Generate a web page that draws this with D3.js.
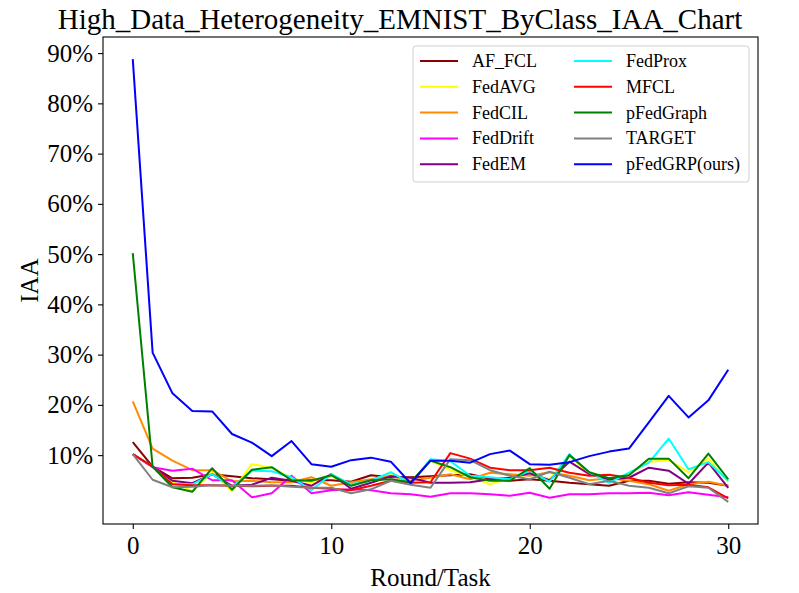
<!DOCTYPE html>
<html>
<head>
<meta charset="utf-8">
<script src="https://cdn.jsdelivr.net/npm/d3@7"></script>
<style>
  body { margin: 0; background: #fff; }
  text { font-family: "Liberation Serif", "Times New Roman", serif; fill: #000; }
</style>
</head>
<body>
<svg id="chart"></svg>
<script>
// rounds 0..30
var rounds = d3.range(0, 31);

// IAA values (%) per method
var afFcl    = [12.6,7.7,5.4,5.5,6.2,5.8,5.4,5.2,4.9,5.0,5.0,4.7,6.0,5.6,5.6,5.8,6.0,6.2,5.3,4.9,5.2,4.9,4.5,4.2,3.9,4.9,4.9,4.3,4.6,4.5,3.9];
var fedAvg   = [10.2,7.7,4.6,2.9,6.6,2.8,8.2,7.5,5.4,4.5,5.8,4.2,5.0,6.4,4.6,8.9,7.0,5.7,4.2,5.5,6.2,5.2,9.9,6.2,5.3,6.2,8.7,9.0,6.6,9.3,4.6];
var fedCil   = [20.7,11.3,8.9,7.0,7.0,4.8,4.9,4.6,4.6,5.6,3.9,4.6,5.2,5.9,4.9,5.5,6.2,5.2,6.5,6.2,5.9,6.6,5.9,5.0,5.4,4.9,4.2,2.9,4.2,4.7,3.9];
var fedDrift = [10.2,7.6,6.9,7.3,5.0,5.0,1.6,2.4,5.9,2.4,3.0,3.2,3.0,2.4,2.2,1.7,2.4,2.4,2.2,1.9,2.5,1.5,2.2,2.2,2.4,2.4,2.5,2.0,2.6,2.1,1.6];
var fedEm    = [10.2,7.7,4.9,4.4,6.2,3.9,4.1,5.5,4.9,3.9,6.2,3.3,4.5,5.8,5.5,4.5,4.5,4.6,5.2,5.5,6.4,5.0,8.7,6.2,5.2,5.5,7.5,6.9,4.3,8.5,3.5];
var fedProx  = [10.2,7.7,4.2,4.2,6.2,3.6,6.9,6.8,5.6,3.0,6.2,4.2,4.9,6.6,4.4,9.2,8.8,5.9,5.6,5.2,6.9,4.7,10.2,6.5,4.5,6.5,8.5,13.3,7.2,8.6,4.9];
var mfcl     = [10.2,7.7,4.2,4.0,4.0,3.9,3.8,3.9,3.9,3.5,3.3,3.0,3.9,4.9,4.5,4.6,10.4,9.3,7.5,7.0,7.0,7.5,6.5,5.9,6.1,5.5,4.5,4.0,4.1,3.6,1.4];
var pFedGraph= [50.2,7.7,3.6,2.7,7.4,3.1,7.1,7.6,5.0,4.9,6.0,3.9,5.0,5.2,4.6,8.9,7.6,5.6,4.9,4.9,7.4,3.3,10.0,6.6,5.4,6.0,9.3,9.3,5.4,10.3,5.2];
var target   = [10.2,5.1,3.6,3.7,4.0,3.9,3.9,4.0,3.7,3.5,3.5,2.4,3.2,4.9,4.1,3.5,9.2,9.0,7.0,5.9,5.2,6.7,5.5,4.2,4.9,3.9,3.5,2.4,3.8,3.5,0.7];
var pFedGrp  = [88.8,30.4,22.3,18.8,18.7,14.2,12.5,9.8,12.8,8.2,7.7,9.0,9.5,8.7,4.4,8.9,8.9,8.5,10.2,10.9,8.2,8.1,8.6,9.8,10.7,11.3,16.5,21.8,17.5,20.9,27.0];

var names  = ["AF_FCL","FedAVG","FedCIL","FedDrift","FedEM","FedProx","MFCL","pFedGraph","TARGET","pFedGRP(ours)"];
var colors = ["#8b0000","#ffff00","#ff8c00","#ff00ff","#800080","#00ffff","#ff0000","#008000","#808080","#0000ff"];
var values = [afFcl,fedAvg,fedCil,fedDrift,fedEm,fedProx,mfcl,pFedGraph,target,pFedGrp];

var xTicks = [0,10,20,30];
var yTicks = [10,20,30,40,50,60,70,80,90];

var width = 799, height = 593;
var margin = {left: 103, right: 41, top: 37, bottom: 69};

var svg = d3.select("#chart").attr("width", width).attr("height", height);

// matplotlib-like 5% padding
var yMin = d3.min(values, d => d3.min(d)), yMax = d3.max(values, d => d3.max(d));
var yPad = (yMax - yMin) * 0.05;

var x = d3.scaleLinear().domain([-1.5, 31.5]).range([margin.left, width - margin.right]);
var y = d3.scaleLinear().domain([yMin - yPad, yMax + yPad]).range([height - margin.bottom, margin.top]);

// lines
var line = d3.line().x((d, i) => x(rounds[i])).y(d => y(d));
svg.append("g")
  .selectAll("path")
  .data(values)
  .join("path")
    .attr("fill", "none")
    .attr("stroke", (d, i) => colors[i])
    .attr("stroke-width", 2)
    .attr("stroke-linejoin", "round")
    .attr("d", line);

// axes
var xAxis = svg.append("g")
  .attr("transform", `translate(0,${height - margin.bottom})`)
  .call(d3.axisBottom(x).tickValues(xTicks).tickSize(5).tickPadding(7));
var yAxis = svg.append("g")
  .attr("transform", `translate(${margin.left},0)`)
  .call(d3.axisLeft(y).tickValues(yTicks).tickSize(5).tickPadding(5).tickFormat(d => d + "%"));

[xAxis, yAxis].forEach(function(a) {
  a.select(".domain").remove();
  a.selectAll("line").attr("stroke", "#000").attr("stroke-width", 1.1);
  a.selectAll("text").attr("font-size", 25).attr("font-family", "Liberation Serif");
});

// frame
svg.append("rect")
  .attr("x", margin.left).attr("y", margin.top)
  .attr("width", width - margin.left - margin.right)
  .attr("height", height - margin.top - margin.bottom)
  .attr("fill", "none").attr("stroke", "#000").attr("stroke-width", 1.1);

// labels
svg.append("text")
  .attr("x", 400).attr("y", 29)
  .attr("text-anchor", "middle").attr("font-size", 29)
  .text("High_Data_Heterogeneity_EMNIST_ByClass_IAA_Chart");

svg.append("text")
  .attr("x", (margin.left + width - margin.right) / 2).attr("y", 586)
  .attr("text-anchor", "middle").attr("font-size", 25)
  .text("Round/Task");

svg.append("text")
  .attr("transform", `translate(38,${(margin.top + height - margin.bottom) / 2}) rotate(-90)`)
  .attr("text-anchor", "middle").attr("font-size", 25)
  .text("IAA");

// legend
var legend = svg.append("g");
legend.append("rect")
  .attr("x", 413).attr("y", 46).attr("width", 336).attr("height", 136)
  .attr("rx", 3).attr("fill", "#fff").attr("fill-opacity", 0.8)
  .attr("stroke", "#d0d0d0").attr("stroke-width", 1);

var items = legend.selectAll("g.item")
  .data(names)
  .join("g")
    .attr("class", "item")
    .attr("transform", (d, i) => `translate(${i < 5 ? 420 : 574},${61 + (i % 5) * 25.8})`);
items.append("line")
  .attr("x1", 0).attr("x2", 38).attr("y1", 0).attr("y2", 0)
  .attr("stroke", (d, i) => colors[i]).attr("stroke-width", 2);
items.append("text")
  .attr("x", 52).attr("y", 6)
  .attr("font-size", 18)
  .text(d => d);
</script>
</body>
</html>
